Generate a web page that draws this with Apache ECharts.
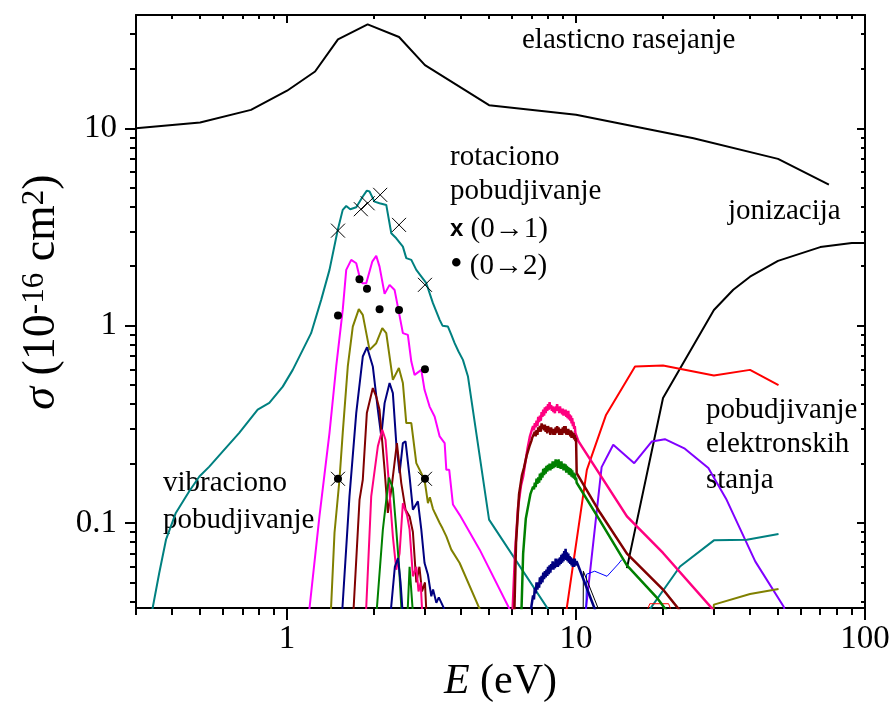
<!DOCTYPE html>
<html>
<head>
<meta charset="utf-8">
<script src="https://cdn.jsdelivr.net/npm/echarts@6/dist/echarts.min.js"></script>
<style>
html, body { margin: 0; padding: 0; background: #fff; }
#chart { width: 891px; height: 702px; }
</style>
</head>
<body>
<div id="chart"></div>
<script>
// Axis ticks (energy in eV, cross section in 1e-16 cm^2)
const X_MAJOR = [1, 10, 100];
const X_MINOR = [0.3, 0.4, 0.5, 0.6, 0.7, 0.8, 0.9, 2, 3, 4, 5, 6, 7, 8, 9, 20, 30, 40, 50, 60, 70, 80, 90];
const Y_MAJOR = [0.1, 1, 10];
const Y_MINOR = [0.04, 0.05, 0.06, 0.07, 0.08, 0.09, 0.2, 0.3, 0.4, 0.5, 0.6, 0.7, 0.8, 0.9, 2, 3, 4, 5, 6, 7, 8, 9, 20, 30];

// Elastic scattering
const elasticE = [0.3, 0.5, 0.75, 1.0, 1.25, 1.5, 1.9, 2.44, 3.0, 5.0, 10, 25.5, 50, 75];
const elasticS = [10, 10.7, 12.4, 15.5, 19.4, 28.2, 33.6, 29.0, 20.9, 13.1, 11.7, 8.9, 7.0, 5.18];

// Ionization
const ionE = [15, 20, 30, 35, 40, 50, 70, 90, 100];
const ionS = [0.0591, 0.43, 1.20, 1.52, 1.77, 2.13, 2.50, 2.62, 2.62];

// Rotational / vibrational total (teal)
const tealE = [0.34, 0.361, 0.381, 0.412, 0.458, 0.497, 0.538, 0.598, 0.683, 0.791, 0.868, 0.966, 1.046, 1.133, 1.211, 1.312, 1.402, 1.497, 1.558, 1.602, 1.654, 1.735, 1.828, 1.888, 1.929, 2.007, 2.089, 2.204, 2.294, 2.387, 2.516, 2.585, 2.691, 2.80, 3.032, 3.197, 3.373, 3.45, 3.603, 3.70, 3.80, 3.92, 4.06, 4.227, 5.0, 8.5];
const tealS = [0.035, 0.0558, 0.0823, 0.1125, 0.1445, 0.172, 0.193, 0.230, 0.286, 0.375, 0.406, 0.491, 0.597, 0.754, 0.916, 1.351, 1.917, 3.05, 3.86, 4.04, 3.89, 3.98, 4.51, 4.83, 4.78, 4.25, 4.17, 4.09, 2.94, 2.77, 2.515, 2.198, 2.154, 1.917, 1.641, 1.30, 1.07, 1.0, 0.989, 0.90, 0.815, 0.74, 0.671, 0.552, 0.104, 0.032];

// Vibrational levels
const magE = [1.18, 1.294, 1.402, 1.479, 1.558, 1.602, 1.667, 1.735, 1.781, 1.82, 1.879, 1.971, 2.035, 2.089, 2.175, 2.263, 2.355, 2.417, 2.516, 2.618, 2.691, 2.762, 2.914, 2.99, 3.113, 3.24, 3.373, 3.51, 3.557, 3.64, 3.75, 3.955, 4.64, 6.14];
const magS = [0.031, 0.108, 0.286, 0.621, 1.202, 1.917, 2.154, 2.07, 1.773, 1.641, 1.641, 2.11, 2.256, 1.992, 1.449, 1.609, 1.517, 1.249, 0.916, 0.898, 0.658, 0.563, 0.597, 0.473, 0.389, 0.3465, 0.2745, 0.254, 0.186, 0.186, 0.124, 0.110, 0.0733, 0.0324];

const oliveE = [1.41, 1.459, 1.518, 1.558, 1.622, 1.688, 1.771, 1.828, 1.929, 2.035, 2.135, 2.204, 2.323, 2.437, 2.516, 2.585, 2.691, 2.80, 2.99, 3.03, 3.072, 3.12, 3.197, 3.25, 3.373, 3.45, 3.557, 3.70, 3.955, 4.83];
const oliveS = [0.03, 0.089, 0.1656, 0.286, 0.621, 0.989, 1.212, 1.134, 0.754, 0.815, 0.971, 0.916, 0.531, 0.61, 0.512, 0.321, 0.321, 0.201, 0.1656, 0.145, 0.1262, 0.135, 0.118, 0.112, 0.1, 0.094, 0.0855, 0.0733, 0.0627, 0.032];

const navyE = [1.54, 1.644, 1.735, 1.828, 1.891, 1.98, 2.061, 2.118, 2.175, 2.263, 2.323, 2.387, 2.451, 2.516, 2.57, 2.654, 2.725, 2.836, 2.914, 2.99, 3.072, 3.156, 3.2, 3.285, 3.35, 3.462, 3.57];
const navyS = [0.03, 0.1364, 0.3605, 0.6975, 0.778, 0.621, 0.375, 0.2745, 0.405, 0.512, 0.455, 0.254, 0.179, 0.254, 0.259, 0.172, 0.1168, 0.1287, 0.0925, 0.0627, 0.0547, 0.0425, 0.046, 0.0394, 0.042, 0.0379, 0.034];

const maroonE = [1.69, 1.781, 1.828, 1.888, 1.98, 2.035, 2.089, 2.175, 2.232, 2.294, 2.399, 2.484, 2.57, 2.654, 2.725, 2.80, 2.87, 2.93, 3.0, 3.05];
const maroonS = [0.032, 0.131, 0.1656, 0.3605, 0.483, 0.4375, 0.375, 0.186, 0.1125, 0.1474, 0.254, 0.1594, 0.1168, 0.108, 0.09, 0.05, 0.06, 0.045, 0.05, 0.03];

const pinkE = [1.87, 1.955, 2.061, 2.135, 2.191, 2.232, 2.323, 2.387, 2.45, 2.516, 2.6, 2.654, 2.725, 2.8, 2.85, 2.9, 2.95];
const pinkS = [0.032, 0.1364, 0.2445, 0.297, 0.264, 0.186, 0.0855, 0.058, 0.07, 0.126, 0.11, 0.0925, 0.0537, 0.06, 0.045, 0.05, 0.03];

const greenE = [2.03, 2.145, 2.25, 2.323, 2.387, 2.44, 2.5, 2.6, 2.654, 2.725, 2.76];
const greenS = [0.032, 0.0925, 0.17, 0.15, 0.0925, 0.0605, 0.032, 0.03, 0.06, 0.035, 0.03];

const navy2E = [2.26, 2.36, 2.42, 2.47, 2.53];
const navy2S = [0.03, 0.06, 0.0665, 0.05, 0.03];

// Resonance humps around 8 eV
const pinkHumpE = [6.0, 6.15, 6.3, 6.45, 6.56, 6.7, 6.8, 6.92, 7.0, 7.05, 7.1, 7.15, 7.2, 7.25, 7.3, 7.35, 7.4, 7.45, 7.5, 7.55, 7.6, 7.65, 7.7, 7.75, 7.8, 7.85, 7.9, 7.95, 8.0, 8.05, 8.1, 8.15, 8.2, 8.25, 8.3, 8.35, 8.4, 8.45, 8.5, 8.55, 8.6, 8.65, 8.7, 8.75, 8.8, 8.85, 8.9, 8.95, 9.0, 9.05, 9.1, 9.15, 9.2, 9.25, 9.3, 9.35, 9.4, 9.45, 9.5, 9.55, 9.6, 9.65, 9.7, 9.75, 9.8, 9.85, 9.9, 9.95, 10.0, 10.2, 15, 20, 30];
const pinkHumpS = [0.03, 0.07, 0.12, 0.155, 0.172, 0.21, 0.24, 0.274, 0.29, 0.30, 0.31, 0.295, 0.321, 0.305, 0.33, 0.31, 0.345, 0.325, 0.35, 0.33, 0.365, 0.345, 0.375, 0.35, 0.385, 0.36, 0.39, 0.37, 0.40, 0.375, 0.41, 0.38, 0.395, 0.37, 0.39, 0.365, 0.385, 0.36, 0.39, 0.37, 0.40, 0.37, 0.385, 0.36, 0.39, 0.365, 0.38, 0.355, 0.38, 0.35, 0.37, 0.35, 0.375, 0.345, 0.365, 0.34, 0.37, 0.335, 0.355, 0.33, 0.35, 0.32, 0.34, 0.31, 0.325, 0.30, 0.31, 0.285, 0.28, 0.259, 0.108, 0.0705, 0.036];

const maroonHumpE = [6.1, 6.2, 6.35, 6.5, 6.6, 6.75, 6.9, 7.0, 7.05, 7.1, 7.15, 7.2, 7.25, 7.3, 7.35, 7.4, 7.45, 7.5, 7.55, 7.6, 7.65, 7.7, 7.75, 7.8, 7.85, 7.9, 7.95, 8.0, 8.05, 8.1, 8.15, 8.2, 8.25, 8.3, 8.35, 8.4, 8.45, 8.5, 8.55, 8.6, 8.65, 8.7, 8.75, 8.8, 8.85, 8.9, 8.95, 9.0, 9.05, 9.1, 9.15, 9.2, 9.25, 9.3, 9.35, 9.4, 9.45, 9.5, 9.55, 9.6, 9.65, 9.7, 9.75, 9.8, 9.85, 9.9, 9.95, 10.0, 10.05, 12.1, 15, 20, 24];
const maroonHumpS = [0.03, 0.08, 0.14, 0.175, 0.19, 0.22, 0.245, 0.26, 0.27, 0.275, 0.265, 0.29, 0.275, 0.295, 0.28, 0.305, 0.29, 0.31, 0.29, 0.32, 0.3, 0.315, 0.295, 0.315, 0.29, 0.31, 0.285, 0.31, 0.29, 0.305, 0.28, 0.305, 0.285, 0.30, 0.28, 0.30, 0.28, 0.305, 0.285, 0.31, 0.29, 0.305, 0.28, 0.30, 0.28, 0.30, 0.28, 0.305, 0.285, 0.31, 0.285, 0.31, 0.28, 0.30, 0.28, 0.30, 0.28, 0.295, 0.275, 0.295, 0.27, 0.29, 0.27, 0.285, 0.265, 0.28, 0.26, 0.27, 0.179, 0.113, 0.07, 0.046, 0.033];

const greenHumpE = [6.45, 6.56, 6.7, 6.82, 6.95, 7.1, 7.15, 7.2, 7.25, 7.3, 7.35, 7.4, 7.45, 7.5, 7.55, 7.6, 7.65, 7.7, 7.75, 7.8, 7.85, 7.9, 7.95, 8.0, 8.05, 8.1, 8.15, 8.2, 8.25, 8.3, 8.35, 8.4, 8.45, 8.5, 8.55, 8.6, 8.65, 8.7, 8.75, 8.8, 8.85, 8.9, 8.95, 9.0, 9.05, 9.1, 9.15, 9.2, 9.25, 9.3, 9.35, 9.4, 9.45, 9.5, 9.55, 9.6, 9.65, 9.7, 9.75, 9.8, 9.85, 9.9, 9.95, 10.0, 10.05, 12, 15, 19, 21.5];
const greenHumpS = [0.03, 0.07, 0.105, 0.121, 0.14, 0.153, 0.148, 0.16, 0.152, 0.168, 0.158, 0.17, 0.16, 0.178, 0.165, 0.18, 0.17, 0.188, 0.175, 0.19, 0.178, 0.195, 0.182, 0.197, 0.185, 0.2, 0.185, 0.2, 0.188, 0.205, 0.19, 0.205, 0.192, 0.21, 0.195, 0.208, 0.19, 0.21, 0.19, 0.205, 0.188, 0.205, 0.19, 0.2, 0.185, 0.2, 0.185, 0.198, 0.18, 0.195, 0.18, 0.192, 0.176, 0.19, 0.175, 0.188, 0.172, 0.185, 0.17, 0.18, 0.168, 0.178, 0.165, 0.17, 0.16, 0.105, 0.061, 0.042, 0.033];

const navyHumpE = [6.9, 7.01, 7.1, 7.15, 7.2, 7.25, 7.3, 7.35, 7.4, 7.45, 7.5, 7.55, 7.6, 7.65, 7.7, 7.75, 7.8, 7.85, 7.9, 7.95, 8.0, 8.05, 8.1, 8.15, 8.2, 8.25, 8.3, 8.35, 8.4, 8.45, 8.5, 8.55, 8.6, 8.65, 8.7, 8.75, 8.8, 8.85, 8.9, 8.95, 9.0, 9.05, 9.1, 9.15, 9.2, 9.25, 9.3, 9.35, 9.4, 9.45, 9.5, 9.55, 9.6, 9.65, 9.7, 9.75, 9.8, 9.85, 9.9, 9.95, 10.04, 11.6, 12.0];
const navyHumpS = [0.03, 0.038, 0.043, 0.041, 0.047, 0.044, 0.05, 0.046, 0.05, 0.047, 0.053, 0.049, 0.054, 0.05, 0.056, 0.052, 0.057, 0.053, 0.058, 0.054, 0.06, 0.055, 0.061, 0.056, 0.062, 0.058, 0.064, 0.058, 0.063, 0.059, 0.066, 0.06, 0.065, 0.06, 0.066, 0.061, 0.067, 0.062, 0.069, 0.063, 0.07, 0.064, 0.072, 0.066, 0.074, 0.065, 0.071, 0.064, 0.07, 0.063, 0.068, 0.062, 0.067, 0.061, 0.066, 0.06, 0.065, 0.06, 0.066, 0.061, 0.064, 0.0368, 0.032];

// Thin traces near threshold
const thinBlueE = [10.8, 10.87, 11.6, 12.8, 14.0, 14.4];
const thinBlueS = [0.03, 0.055, 0.057, 0.0537, 0.062, 0.0652];
const thinBlackE = [10.58, 10.6, 12.2];
const thinBlackS = [0.03, 0.057, 0.034];
const thinRedE = [17.2, 18.0, 20.9, 21.9];
const thinRedS = [0.033, 0.039, 0.039, 0.033];

// Electronic excitation
const redE = [9.0, 10.9, 12.7, 16.0, 20.0, 30, 40, 50.2];
const redS = [0.027, 0.186, 0.353, 0.621, 0.628, 0.559, 0.597, 0.50];
const violetE = [10.44, 12.26, 13.45, 15.9, 18.3, 20.3, 23.8, 28.7, 33.2, 41.7, 52.2, 54];
const violetS = [0.0228, 0.192, 0.249, 0.201, 0.259, 0.266, 0.238, 0.19, 0.131, 0.0639, 0.0379, 0.033];
const tealElE = [16.5, 22.9, 30, 39, 50.2];
const tealElS = [0.0305, 0.0602, 0.0817, 0.0823, 0.088];
const oliveElE = [29.5, 30, 40, 50.2];
const oliveElS = [0.03, 0.0386, 0.0437, 0.0463];

// Reference points
const rot01E = [1.5, 1.8, 1.9, 2.1, 2.44, 3.0];
const rot01S = [3.03, 3.89, 4.17, 4.60, 3.24, 1.61];
const rot02E = [1.5, 1.78, 1.89, 2.09, 2.44, 3.0];
const rot02S = [1.125, 1.72, 1.536, 1.212, 1.202, 0.602];
const vibE = [1.5, 3.0];
const vibS = [0.1675, 0.1675];

const SERIF = '"Liberation Serif", "Times New Roman", serif';

function pairs(E, S) { return E.map((e, i) => [e, S[i]]); }
function curve(E, S, color, width, z) {
  return {
    type: 'line', data: pairs(E, S), showSymbol: false, symbol: 'none',
    lineStyle: { color: color, width: width }, clip: true, silent: true,
    animation: false, z: z || 2
  };
}

const CROSS = 'path://M0,0L10,10M10,0L0,10';

const X_MIN = 0.3, X_MAX = 100, Y_MIN = 0.0371, Y_MAX = 37.5;

function xAxisDef(position, ticks, len, inside, showLine, labels, extra) {
  return Object.assign({
    type: 'log', logBase: 10, min: X_MIN, max: X_MAX, position: position,
    axisLine: { show: showLine, lineStyle: { color: '#000', width: 2 } },
    axisTick: { show: true, inside: inside, length: len, customValues: ticks, lineStyle: { color: '#000', width: 2 } },
    axisLabel: labels ? {
      show: true, customValues: ticks, fontSize: 33, fontFamily: SERIF, color: '#000', margin: 15,
      formatter: v => String(+v.toPrecision(3))
    } : { show: false },
    splitLine: { show: false }, minorTick: { show: false }
  }, extra || {});
}
function yAxisDef(position, ticks, len, inside, showLine, labels, extra) {
  return Object.assign({
    type: 'log', logBase: 10, min: Y_MIN, max: Y_MAX, position: position,
    axisLine: { show: showLine, lineStyle: { color: '#000', width: 2 } },
    axisTick: { show: true, inside: inside, length: len, customValues: ticks, lineStyle: { color: '#000', width: 2 } },
    axisLabel: labels ? {
      show: true, customValues: ticks, fontSize: 33, fontFamily: SERIF, color: '#000', margin: 19,
      formatter: v => String(+v.toPrecision(3))
    } : { show: false },
    splitLine: { show: false }, minorTick: { show: false }
  }, extra || {});
}

const chart = echarts.init(document.getElementById('chart'), null, { renderer: 'canvas' });

function label(text, x, y, extra) {
  return { type: 'text', x: x, y: y, silent: true,
    style: Object.assign({ text: text, font: '29px ' + SERIF, fill: '#000', verticalAlign: 'middle' }, extra || {}) };
}

const option = {
  backgroundColor: '#fff',
  animation: false,
  grid: { left: 136, right: 26, top: 15, bottom: 94, containLabel: false, outerBoundsMode: 'none' },
  xAxis: [
    xAxisDef('bottom', X_MAJOR, 12, false, true, true, {
      name: '{i|E} (eV)', nameLocation: 'middle', nameGap: 49,
      nameTextStyle: { fontSize: 42, fontFamily: SERIF, color: '#000',
        rich: { i: { fontSize: 42, fontFamily: SERIF, fontStyle: 'italic', color: '#000' } } }
    }),
    xAxisDef('bottom', X_MINOR, 7, false, false, false),
    xAxisDef('top', X_MAJOR, 8, true, true, false),
    xAxisDef('top', X_MINOR, 4, true, false, false)
  ],
  yAxis: [
    yAxisDef('left', Y_MAJOR, 11, false, true, true),
    yAxisDef('left', Y_MINOR, 6, false, false, false),
    yAxisDef('right', Y_MAJOR, 8, true, true, false),
    yAxisDef('right', Y_MINOR, 4, true, false, false)
  ],
  series: [
    curve(elasticE, elasticS, '#000000', 2),
    curve(ionE, ionS, '#000000', 2),
    curve(redE, redS, '#ff0000', 2),
    curve(violetE, violetS, '#8000ff', 2),
    curve(tealElE, tealElS, '#008080', 2),
    curve(oliveElE, oliveElS, '#808000', 2),
    curve(thinRedE, thinRedS, '#ff0000', 1),
    curve(thinBlueE, thinBlueS, '#0000ff', 1),
    curve(thinBlackE, thinBlackS, '#000000', 1),
    curve(tealE, tealS, '#008080', 2),
    curve(magE, magS, '#ff00ff', 2),
    curve(oliveE, oliveS, '#808000', 2),
    curve(navyE, navyS, '#000080', 2),
    curve(maroonE, maroonS, '#800000', 2),
    curve(pinkE, pinkS, '#ff0080', 2),
    curve(greenE, greenS, '#008000', 2),
    curve(navy2E, navy2S, '#000080', 2),
    curve(pinkHumpE, pinkHumpS, '#ff0080', 2.5, 3),
    curve(maroonHumpE, maroonHumpS, '#800000', 2.5, 3),
    curve(greenHumpE, greenHumpS, '#008000', 2.5, 3),
    curve(navyHumpE, navyHumpS, '#000080', 2.5, 3),
    {
      type: 'scatter', data: pairs(rot01E, rot01S), symbol: CROSS, symbolSize: 14,
      itemStyle: { color: 'rgba(0,0,0,0)', borderColor: '#000', borderWidth: 1, opacity: 1 }, z: 5, silent: true
    },
    {
      type: 'scatter', data: pairs(rot02E, rot02S), symbol: 'circle', symbolSize: 8,
      itemStyle: { color: '#000', opacity: 1 }, z: 5, silent: true
    },
    {
      type: 'scatter', data: pairs(vibE, vibS), symbol: CROSS, symbolSize: 14,
      itemStyle: { color: 'rgba(0,0,0,0)', borderColor: '#000', borderWidth: 1, opacity: 1 }, z: 5, silent: true
    },
    {
      type: 'scatter', data: pairs(vibE, vibS), symbol: 'circle', symbolSize: 8,
      itemStyle: { color: '#000', opacity: 1 }, z: 5, silent: true
    }
  ],
  graphic: [
    {
      type: 'text', x: 42, y: 292, rotation: Math.PI / 2, silent: true,
      style: {
        text: '{i|σ} (10{sup|-16} cm{sup|2})', font: '46px ' + SERIF, fill: '#000',
        align: 'center', verticalAlign: 'middle',
        rich: {
          i: { fontSize: 46, fontFamily: SERIF, fontStyle: 'italic' },
          sup: { fontSize: 31, fontFamily: SERIF, verticalAlign: 'top' }
        }
      }
    },
    label('elasticno rasejanje', 522, 40),
    label('rotaciono', 450, 157),
    label('pobudjivanje', 450, 191),
    label('{b|x} (0→1)', 450, 229, {
      rich: { b: { fontFamily: '"Liberation Sans", Arial, sans-serif', fontWeight: 'bold', fontSize: 24 } } }),
    label('{d|•} (0→2)', 450, 266, { rich: { d: { fontSize: 36, fontFamily: SERIF } } }),
    label('jonizacija', 728, 211),
    label('pobudjivanje', 706, 410),
    label('elektronskih', 706, 444),
    label('stanja', 706, 480),
    label('vibraciono', 163, 483),
    label('pobudjivanje', 163, 520)
  ]
};

chart.setOption(option);
</script>
</body>
</html>
